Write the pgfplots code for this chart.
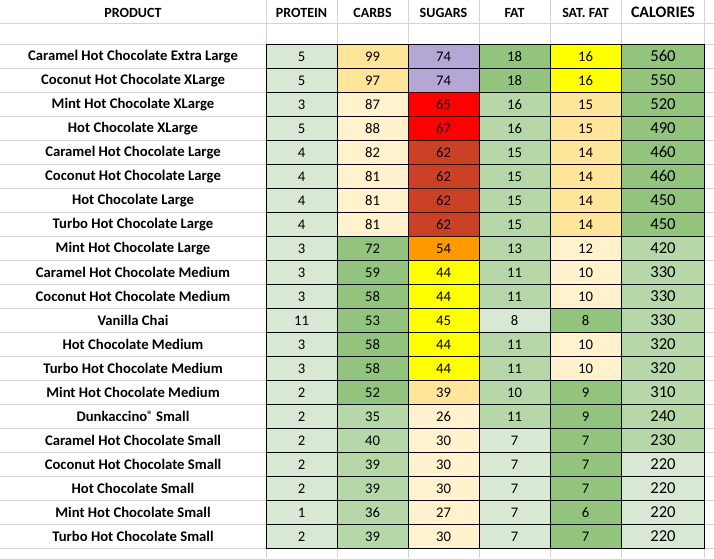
\documentclass[border=0pt]{standalone}
\usepackage{fontspec}
\setmainfont{Carlito}
\usepackage{pgfplots}
\usepackage{pgfplotstable}
\pgfplotsset{compat=1.18}

\definecolor{c0}{RGB}{216,232,212}% pale green
\definecolor{c1}{RGB}{182,215,168}% green
\definecolor{c2}{RGB}{147,196,125}% dark green
\definecolor{c3}{RGB}{255,242,204}% cream
\definecolor{c4}{RGB}{255,229,153}% light orange
\definecolor{c5}{RGB}{180,167,214}% lavender
\definecolor{c6}{RGB}{255,0,0}%     red
\definecolor{c7}{RGB}{204,65,37}%   brick
\definecolor{c8}{RGB}{255,153,0}%   orange
\definecolor{c9}{RGB}{255,255,0}%   yellow

% cell shapes, 1 px = 0.75pt
\pgfdeclareplotmark{cellbox}{%
  \pgfpathrectangle{\pgfqpoint{-26.625pt}{-9pt}}{\pgfqpoint{53.25pt}{18pt}}%
  \pgfusepathqfillstroke}
\pgfdeclareplotmark{widebox}{%
  \pgfpathrectangle{\pgfqpoint{-31.275pt}{-9pt}}{\pgfqpoint{62.55pt}{18pt}}%
  \pgfusepathqfillstroke}

% value and colour class for every cell
\pgfplotstableread{
r name p cp c cc s cs f cf sf csf cal ccal
1 {Caramel Hot Chocolate Extra Large} 5 0 99 4 74 5 18 2 16 9 560 2
2 {Coconut Hot Chocolate XLarge} 5 0 97 4 74 5 18 2 16 9 550 2
3 {Mint Hot Chocolate XLarge} 3 0 87 3 65 6 16 1 15 4 520 2
4 {Hot Chocolate XLarge} 5 0 88 3 67 6 16 1 15 4 490 2
5 {Caramel Hot Chocolate Large} 4 0 82 3 62 7 15 1 14 4 460 2
6 {Coconut Hot Chocolate Large} 4 0 81 3 62 7 15 1 14 4 460 2
7 {Hot Chocolate Large} 4 0 81 3 62 7 15 1 14 4 450 2
8 {Turbo Hot Chocolate Large} 4 0 81 3 62 7 15 1 14 4 450 2
9 {Mint Hot Chocolate Large} 3 0 72 2 54 8 13 1 12 3 420 1
10 {Caramel Hot Chocolate Medium} 3 0 59 2 44 9 11 1 10 3 330 1
11 {Coconut Hot Chocolate Medium} 3 0 58 2 44 9 11 1 10 3 330 1
12 {Vanilla Chai} 11 0 53 2 45 9 8 0 8 2 330 1
13 {Hot Chocolate Medium} 3 0 58 2 44 9 11 1 10 3 320 1
14 {Turbo Hot Chocolate Medium} 3 0 58 2 44 9 11 1 10 3 320 1
15 {Mint Hot Chocolate Medium} 2 0 52 2 39 4 10 1 9 2 310 1
16 {Dunkaccino\raisebox{0.45ex}{\fontsize{8}{8}\selectfont ®} Small} 2 0 35 1 26 3 11 1 9 2 240 1
17 {Caramel Hot Chocolate Small} 2 0 40 1 30 3 7 0 7 2 230 1
18 {Coconut Hot Chocolate Small} 2 0 39 1 30 3 7 0 7 2 220 0
19 {Hot Chocolate Small} 2 0 39 1 30 3 7 0 7 2 220 0
20 {Mint Hot Chocolate Small} 1 0 36 1 27 3 7 0 6 2 220 0
21 {Turbo Hot Chocolate Small} 2 0 39 1 30 3 7 0 7 2 220 0
}\data

\pgfplotsset{
  cellplot/.style={
    scatter, only marks, mark=cellbox, point meta=explicit symbolic,
    line width=0.75pt,
    scatter/classes={
      0={draw=black,fill=c0}, 1={draw=black,fill=c1}, 2={draw=black,fill=c2},
      3={draw=black,fill=c3}, 4={draw=black,fill=c4}, 5={draw=black,fill=c5},
      6={draw=black,fill=c6}, 7={draw=black,fill=c7}, 8={draw=black,fill=c8},
      9={draw=black,fill=c9}},
  },
  textplot/.style={
    draw=none, mark=none, point meta=explicit symbolic,
    nodes near coords,
    every node near coord/.append style={anchor=center, text=black,
      font=\fontsize{11}{13}\selectfont},
  },
}

\begin{document}
\begin{tikzpicture}
\begin{axis}[
  name=ax,
  x=0.75pt, y=0.75pt,
  xmin=0, xmax=714, ymin=0, ymax=558,
  y dir=reverse,
  axis line style={draw=none},
  tick style={draw=none},
  xtick={266,337,408,479,550,621,704.7},
  ytick={23.3,44.3,68.3,...,560},
  xticklabels={}, yticklabels={},
  grid=major,
  major grid style={color=black!17, line width=0.75pt},
  clip=false,
]
% coloured cells
\addplot[cellplot] table[x expr=301.5, y expr=32.3+24*\thisrow{r}, meta=cp] {\data};
\addplot[cellplot] table[x expr=372.5, y expr=32.3+24*\thisrow{r}, meta=cc] {\data};
\addplot[cellplot] table[x expr=443.5, y expr=32.3+24*\thisrow{r}, meta=cs] {\data};
\addplot[cellplot] table[x expr=514.5, y expr=32.3+24*\thisrow{r}, meta=cf] {\data};
\addplot[cellplot] table[x expr=585.5, y expr=32.3+24*\thisrow{r}, meta=csf] {\data};
\addplot[cellplot, mark=widebox] table[x expr=663, y expr=32.3+24*\thisrow{r}, meta=ccal] {\data};

% cell values
\addplot[textplot] table[x expr=301.5, y expr=32.8+24*\thisrow{r}, meta=p] {\data};
\addplot[textplot] table[x expr=372.5, y expr=32.8+24*\thisrow{r}, meta=c] {\data};
\addplot[textplot] table[x expr=443.5, y expr=32.8+24*\thisrow{r}, meta=s] {\data};
\addplot[textplot] table[x expr=514.5, y expr=32.8+24*\thisrow{r}, meta=f] {\data};
\addplot[textplot] table[x expr=585.5, y expr=32.8+24*\thisrow{r}, meta=sf] {\data};
\addplot[textplot, every node near coord/.append style={font=\fontsize{12.5}{14}\selectfont}]
  table[x expr=663, y expr=31.8+24*\thisrow{r}, meta=cal] {\data};

% product names
\addplot[textplot, every node near coord/.append style={font=\bfseries\fontsize{11}{13}\selectfont}]
  table[x expr=133, y expr=32.3+24*\thisrow{r}, meta=name] {\data};

% header row
\begin{scope}[every node/.style={font=\bfseries\fontsize{10.5}{12}\selectfont}]
\node at (axis cs:133,13) {PRODUCT};
\node at (axis cs:301.5,13) {PROTEIN};
\node at (axis cs:372.5,13) {CARBS};
\node at (axis cs:443.5,13) {SUGARS};
\node at (axis cs:514.5,13) {FAT};
\node at (axis cs:585.5,13) {SAT. FAT};
\end{scope}
\node[font=\bfseries\fontsize{12}{14}\selectfont] at (axis cs:663,12) {CALORIES};
\end{axis}
\pgfresetboundingbox
\path[use as bounding box] (ax.south west) rectangle (ax.north east);
\end{tikzpicture}
\end{document}
